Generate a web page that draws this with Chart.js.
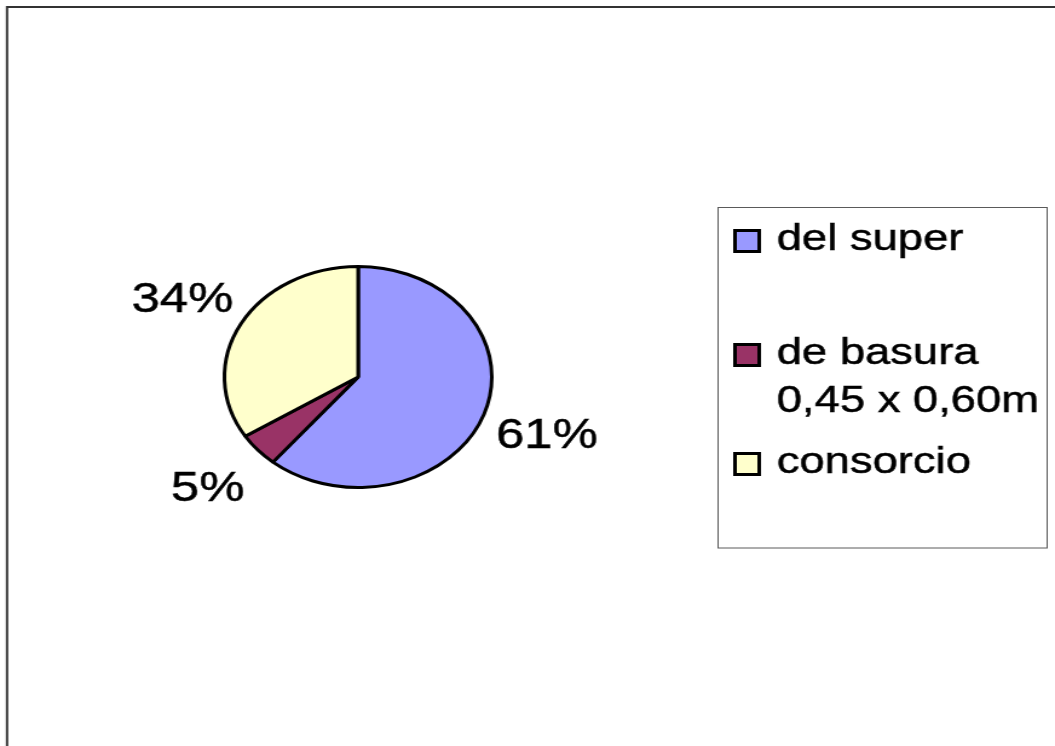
<!DOCTYPE html>
<html>
<head>
<meta charset="utf-8">
<script src="https://cdn.jsdelivr.net/npm/chart.js@4"></script>
<style>
  html, body { margin: 0; padding: 0; background: #ffffff; }
  #wrap { width: 1055px; height: 746px; overflow: hidden; }
  #c { width: 1055px; height: 746px; display: block; }
</style>
</head>
<body>
<div id="wrap"><canvas id="c" width="872" height="746" style="width:1055px;height:746px"></canvas></div>
<script>
// ---- data ----
const categories = ['del super', ['de basura', '0,45 x 0,60m'], 'consorcio'];
const values = [61, 5, 34];
const sliceColors = ['#9999FF', '#993366', '#FFFFCC'];

// ---- layout constants (canvas units; canvas is stretched horizontally by CSS) ----
const FONT = '"Liberation Sans", Arial, sans-serif';
const legendBox = { x: 593.5, y: 207.5, w: 272, h: 340.5 };
const legendRowBaselines = [250, 364, 473];
const legendLineHeight = 48;

function drawText(ctx, t, x, y) {
  ctx.fillText(t, x, y);
  ctx.strokeText(t, x, y);
}

const framePlugin = {
  id: 'frame',
  beforeDraw(chart) {
    const ctx = chart.ctx;
    ctx.save();
    ctx.fillStyle = '#ffffff';
    ctx.fillRect(0, 0, chart.width, chart.height);
    ctx.strokeStyle = '#333333';
    ctx.lineWidth = 2;
    ctx.strokeRect(5.8, 7, 3000, 3000);
    ctx.restore();
  }
};

const pctLabelPlugin = {
  id: 'pctLabels',
  afterDatasetsDraw(chart) {
    const ctx = chart.ctx;
    const meta = chart.getDatasetMeta(0);
    const data = chart.data.datasets[0].data;
    const total = data.reduce((a, b) => a + b, 0);
    const size = 42;
    ctx.save();
    ctx.font = size + 'px ' + FONT;
    ctx.fillStyle = '#000000';
    ctx.strokeStyle = '#000000';
    ctx.lineWidth = 0.5;
    ctx.textAlign = 'center';
    ctx.textBaseline = 'alphabetic';
    meta.data.forEach((arc, i) => {
      const p = arc.getProps(['x', 'y', 'startAngle', 'endAngle', 'outerRadius'], true);
      const mid = (p.startAngle + p.endAngle) / 2;
      const r = p.outerRadius * 1.5;
      const lx = p.x + Math.cos(mid) * r;
      const ly = p.y + Math.sin(mid) * r + size * 0.35;
      drawText(ctx, Math.round(data[i] / total * 100) + '%', lx, ly);
    });
    ctx.restore();
  }
};

const boxLegendPlugin = {
  id: 'boxLegend',
  afterDraw(chart) {
    const ctx = chart.ctx;
    const ds = chart.data.datasets[0];
    ctx.save();
    ctx.strokeStyle = '#5a5a5a';
    ctx.lineWidth = 1;
    ctx.strokeRect(legendBox.x, legendBox.y, legendBox.w, legendBox.h);
    ctx.font = '37.5px ' + FONT;
    ctx.textAlign = 'left';
    ctx.textBaseline = 'alphabetic';
    chart.data.labels.forEach((lab, i) => {
      const base = legendRowBaselines[i];
      // swatch
      ctx.fillStyle = ds.backgroundColor[i];
      ctx.fillRect(607.5, base - 19.5, 20, 21);
      ctx.strokeStyle = '#000000';
      ctx.lineWidth = 3;
      ctx.strokeRect(607.5, base - 19.5, 20, 21);
      // text
      ctx.fillStyle = '#000000';
      ctx.lineWidth = 0.5;
      const lines = Array.isArray(lab) ? lab : [lab];
      lines.forEach((t, j) => drawText(ctx, t, 642, base + j * legendLineHeight));
    });
    ctx.restore();
  }
};

new Chart(document.getElementById('c'), {
  type: 'pie',
  data: {
    labels: categories,
    datasets: [{
      data: values,
      backgroundColor: sliceColors,
      borderColor: '#000000',
      borderWidth: 3
    }]
  },
  options: {
    responsive: false,
    animation: false,
    radius: 110.5,
    layout: { padding: { left: 150, right: 430, top: 231, bottom: 223 } },
    plugins: {
      legend: { display: false },
      tooltip: { enabled: false },
      title: { display: false }
    },
    events: []
  },
  plugins: [framePlugin, pctLabelPlugin, boxLegendPlugin]
});
</script>
</body>
</html>
